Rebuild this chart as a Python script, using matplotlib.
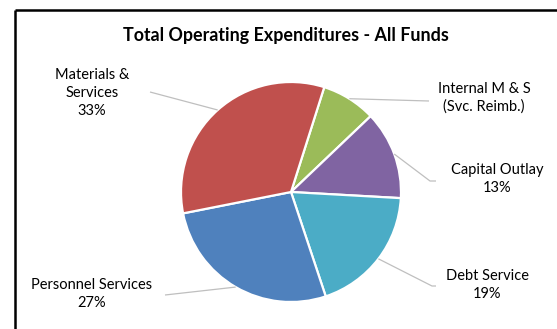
import numpy as np
import matplotlib
matplotlib.use("Agg")
import matplotlib.pyplot as plt

# spending shares, clockwise from the top
categories = ["Internal M & S\n(Svc. Reimb.)", "Capital Outlay", "Debt Service",
              "Personnel Services", "Materials &\nServices"]
shares = [8, 13, 19, 27, 33]
show_pct = [False, True, True, True, True]
colors = ["#9BBB59", "#8064A2", "#4BACC6", "#4F81BD", "#C0504D"]

W, H = 557, 329
FONT = ["Lato", "DejaVu Sans"]

fig = plt.figure(figsize=(W / 100, H / 100), dpi=100)
ax = fig.add_axes([0, 0, 1, 1])
ax.set_xlim(0, W)
ax.set_ylim(0, H)
ax.set_aspect("equal")
ax.axis("off")

cx, cy, R = 291, H - 192, 110
start = 17.6  # degrees clockwise from 12 o'clock

wedges, _ = ax.pie(shares, colors=colors, center=(cx, cy), radius=R,
                   startangle=90 - start, counterclock=False,
                   wedgeprops=dict(edgecolor="white", linewidth=1.6))
ax.set_xlim(0, W)
ax.set_ylim(0, H)

# label anchors (text centre) and leader line end points, in pixel coords
label_xy = [(484, 98), (497, 179), (487, 285), (92, 294), (92, 93)]
line_ends = [[(429, 101)],
             [(430, 181), (436, 181)],
             [(432, 286), (436, 286)],
             [(165, 295)],
             [(150, 92)]]

acc = start
for i, s in enumerate(shares):
    mid = np.radians(acc + s * 1.8)
    acc += s * 3.6
    px, py = cx + R * np.sin(mid), cy + R * np.cos(mid)
    xs = [px] + [p[0] for p in line_ends[i]]
    ys = [py] + [H - p[1] for p in line_ends[i]]
    ax.plot(xs, ys, color="#bfbfbf", lw=0.9, solid_capstyle="butt")
    txt = categories[i] + (f"\n{s}%" if show_pct[i] else "")
    lx, ly = label_xy[i]
    ax.text(lx, H - ly, txt, ha="center", va="center", fontsize=10.5,
            family=FONT, linespacing=1.34, color="black")

ax.text(286, H - 35, "Total Operating Expenditures - All Funds", ha="center",
        va="center", fontsize=12.9, fontweight="bold", family=FONT)

# chart frame: only the top and left edges fall inside the image
ax.plot([15, 15], [H - 10, 0], color="black", lw=1.8, solid_capstyle="butt")
ax.plot([15, W], [H - 10, H - 10], color="black", lw=1.8, solid_capstyle="butt")

fig.savefig("out.png", dpi=100)
